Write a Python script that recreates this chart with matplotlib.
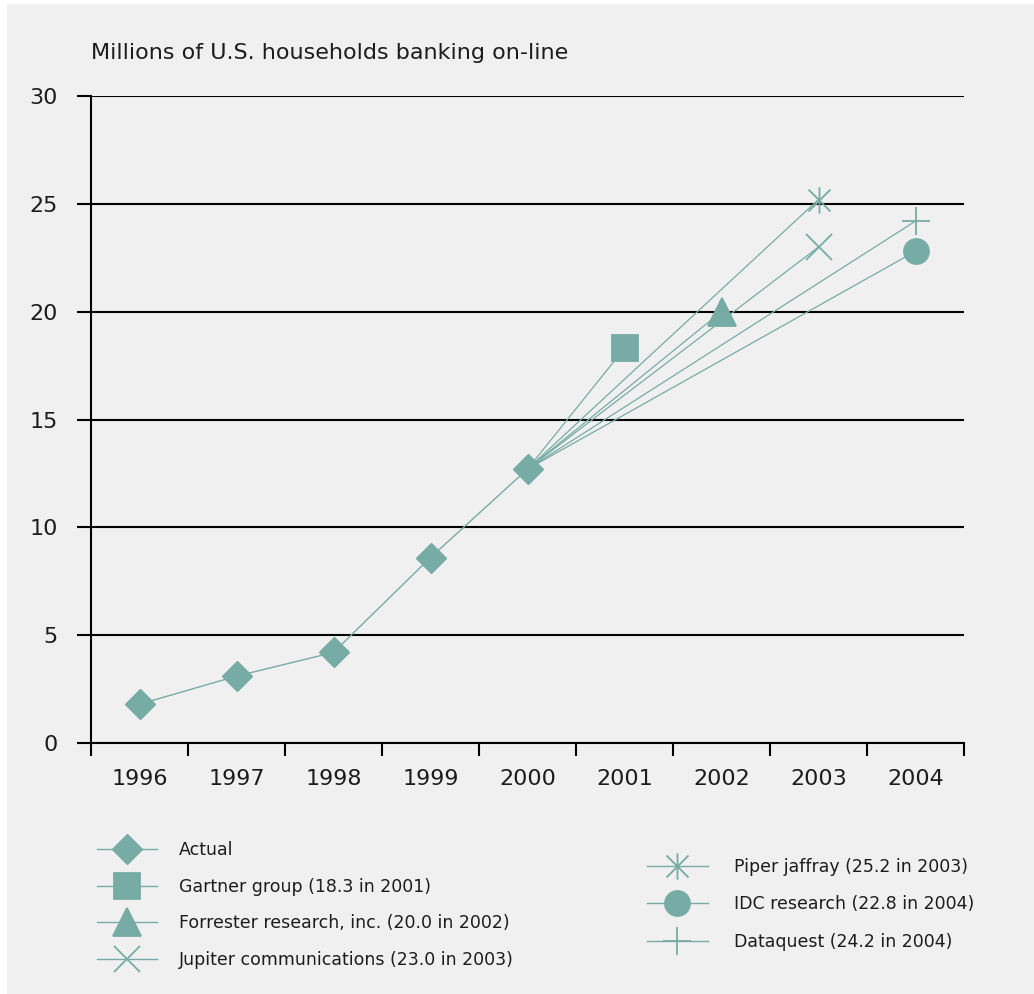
import matplotlib.pyplot as plt
from matplotlib.path import Path
from matplotlib.patches import Rectangle
from matplotlib.lines import Line2D

# data
years = [1996, 1997, 1998, 1999, 2000]
actual = [1.8, 3.1, 4.2, 8.6, 12.7]

fc_names = ["Gartner group (18.3 in 2001)",
            "Forrester research, inc. (20.0 in 2002)",
            "Jupiter communications (23.0 in 2003)",
            "Piper jaffray (25.2 in 2003)",
            "IDC research (22.8 in 2004)",
            "Dataquest (24.2 in 2004)"]
fc_years = [2001, 2002, 2003, 2003, 2004, 2004]
fc_values = [18.3, 20.0, 23.0, 25.2, 22.8, 24.2]

TEAL = "#77aba5"
TXT = "#1c1c1c"
BG = "#f0f0f0"

# x plus vertical bar, for Piper jaffray
star = Path([(-1, -1), (1, 1), (-1, 1), (1, -1), (0, -1.2), (0, 1.2)],
            [Path.MOVETO, Path.LINETO, Path.MOVETO, Path.LINETO, Path.MOVETO, Path.LINETO])

fc_markers = ["s", "^", "x", star, "o", "+"]
fc_sizes = [19, 20, 19, 19, 18, 20]

plt.rcParams["font.family"] = "DejaVu Sans"

fig = plt.figure(figsize=(10.34, 9.94), dpi=100, facecolor="white")
fig.patches.append(Rectangle((7 / 1034, 0), 1, 1 - 4 / 994, transform=fig.transFigure,
                             facecolor=BG, edgecolor="none", zorder=-10))

ax = fig.add_axes([91 / 1034, 1 - 743 / 994, (964 - 91) / 1034, (743 - 96) / 994])
ax.set_facecolor(BG)

ax.plot(years, actual, color=TEAL, lw=1.0, marker="D", ms=15, zorder=3)
for y, v, m, s in zip(fc_years, fc_values, fc_markers, fc_sizes):
    ax.plot([years[-1], y], [actual[-1], v], color=TEAL, lw=0.9, marker=m, ms=s,
            markevery=[1], mew=1.3, zorder=3)

ax.set_xlim(1995.5, 2004.5)
ax.set_ylim(0, 30)
ax.set_yticks(range(0, 31, 5))
ax.set_xticks([x + 0.5 for x in range(1995, 2005)])
ax.set_xticklabels([])
ax.set_xticks(range(1996, 2005), minor=True)
ax.set_xticklabels([str(x) for x in range(1996, 2005)], minor=True)
ax.tick_params(axis="x", which="major", length=9, width=1.5, color="black", direction="out")
ax.tick_params(axis="x", which="minor", length=0, pad=19, labelsize=16, labelcolor=TXT)
ax.tick_params(axis="y", length=10, width=1.5, color="black", pad=14, labelsize=16, labelcolor=TXT)
ax.yaxis.grid(True, color="black", lw=1.5, zorder=1)
ax.set_axisbelow(True)
for s in ["top", "right"]:
    ax.spines[s].set_visible(False)
ax.spines["left"].set_linewidth(1.5)
ax.spines["bottom"].set_linewidth(1.5)

fig.text(91 / 1034, 1 - 53 / 994, "Millions of U.S. households banking on-line",
         fontsize=16, color=TXT, va="center", ha="left")

handles = [Line2D([], [], color=TEAL, lw=1.0, marker="D", ms=15)]
for m, s in zip(fc_markers, fc_sizes):
    handles.append(Line2D([], [], color=TEAL, lw=1.0, marker=m, ms=s, mew=1.3))
labels = ["Actual"] + fc_names

common = dict(frameon=False, fontsize=12.5, borderpad=0, borderaxespad=0, labelcolor=TXT)
leg1 = fig.legend(handles[:4], labels[:4], loc="upper left", handlelength=3.45,
                  handletextpad=1.25, bbox_to_anchor=(97 / 1034, 1 - 841 / 994),
                  labelspacing=1.07, **common)
leg2 = fig.legend(handles[4:], labels[4:], loc="upper left", handlelength=3.5,
                  handletextpad=1.5, bbox_to_anchor=(647 / 1034, 1 - 858 / 994),
                  labelspacing=1.12, **common)

fig.savefig("out.png", dpi=100, facecolor=fig.get_facecolor())
